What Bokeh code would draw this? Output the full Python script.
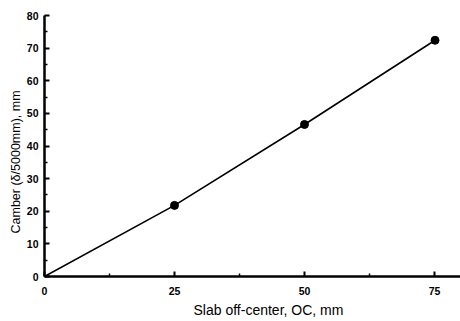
from bokeh.plotting import figure
from bokeh.models import FixedTicker, Range1d, Title
from bokeh.embed import file_html
from bokeh.resources import INLINE

# data
offset_mm = [25.0, 50.0, 75.1]
camber_mm = [21.8, 46.6, 72.4]
curve_x = [0, 25.0, 50.0, 75.1]
curve_y = [0, 21.8, 46.6, 72.4]
x_ticks = [0, 25, 50, 75]
x_minor = [12.5, 37.5, 62.5]
y_ticks = [0, 10, 20, 30, 40, 50, 60, 70, 80]
y_minor = [5, 15, 25, 35, 45, 55, 65, 75]

p = figure(width=460, height=321, output_backend="svg", toolbar_location=None,
           x_range=Range1d(0, 80), y_range=Range1d(0, 80),
           min_border_left=44, min_border_right=0, min_border_top=15, min_border_bottom=45)
p.outline_line_color = None
p.grid.visible = False

p.line(curve_x, curve_y, line_color="black", line_width=1.6)
p.scatter(offset_mm, camber_mm, size=8, color="black")

p.xaxis.ticker = FixedTicker(ticks=x_ticks, minor_ticks=x_minor)
p.yaxis.ticker = FixedTicker(ticks=y_ticks, minor_ticks=y_minor)

for ax in (p.xaxis, p.yaxis):
    ax.axis_line_width = 2.5
    ax.axis_line_color = "black"
    ax.major_tick_in = 5
    ax.major_tick_out = 0
    ax.minor_tick_in = 3
    ax.minor_tick_out = 0
    ax.major_tick_line_width = 2
    ax.minor_tick_line_width = 1.5
    ax.major_label_text_font = "Liberation Sans"
    ax.major_label_text_font_style = "bold"
    ax.major_label_text_font_size = "10.5px"
    ax.major_label_text_color = "black"

p.xaxis.major_label_standoff = 10
p.yaxis.major_label_standoff = 6

yt = Title(text="Camber (\u03b4/5000mm), mm", align="left", offset=43,
           text_font="Liberation Sans", text_font_style="normal",
           text_font_size="12.5px", text_color="black", standoff=2)
p.add_layout(yt, "left")

xt = Title(text="Slab off-center, OC, mm", align="left", offset=149,
           text_font="Liberation Sans", text_font_style="normal",
           text_font_size="14px", text_color="black", standoff=4)
p.add_layout(xt, "below")

open("out.html", "w").write(file_html(p, INLINE))
